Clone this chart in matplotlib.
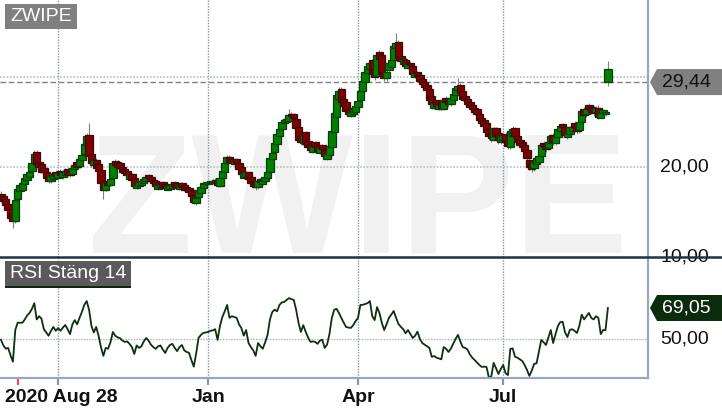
import numpy as np
import matplotlib
matplotlib.use('Agg')
import matplotlib.pyplot as plt
from matplotlib.patches import Polygon, Rectangle
from matplotlib.lines import Line2D
from matplotlib.transforms import IdentityTransform

plt.rcParams['font.family'] = ['Liberation Sans', 'DejaVu Sans']

# daily candles from 2020-08-28
closes = [
    16.5, 16.2, 15.8, 15.2, 14.3, 14.0, 16.3, 17.6, 18.0, 18.2,
    18.8, 19.2, 19.4, 20.5, 21.5, 20.3, 20.0, 19.5, 19.4, 18.8,
    18.4, 19.0, 19.2, 19.0, 19.3, 19.1, 19.4, 19.6, 19.2, 19.1,
    19.9, 20.2, 20.0, 20.9, 21.3, 22.6, 23.4, 21.2, 20.4, 20.8,
    19.9, 19.6, 18.2, 17.5, 18.2, 18.0, 18.7, 20.4, 20.2, 20.0,
    19.9, 19.5, 19.3, 19.1, 19.2, 18.6, 17.9, 18.1, 18.3, 18.5,
    18.7, 18.9, 18.8, 18.4, 18.2, 17.9, 18.0, 18.1, 17.8, 17.7,
    17.9, 18.0, 18.1, 17.9, 17.8, 18.0, 17.8, 17.5, 17.4, 17.2,
    16.8, 16.1, 16.6, 17.4, 17.8, 18.2, 18.2, 18.3, 18.4, 18.5,
    18.6, 18.0, 18.8, 19.6, 20.4, 21.1, 20.6, 20.5, 20.7, 20.5,
    19.8, 19.2, 19.3, 19.4, 18.7, 18.2, 17.9, 17.8, 18.4, 18.3,
    18.6, 18.9, 19.5, 21.0, 21.6, 22.7, 23.7, 24.2, 25.0, 25.2,
    25.3, 25.8, 25.7, 25.4, 24.3, 23.0, 22.8, 23.6, 22.6, 22.2,
    21.9, 22.3, 22.2, 21.8, 22.1, 22.0, 21.2, 21.4, 22.3, 24.0,
    26.0, 28.0, 28.5, 27.2, 26.8, 26.2, 25.9, 26.1, 26.4, 26.8,
    27.3, 28.4, 29.6, 30.6, 31.2, 31.6, 30.3, 30.0, 32.4, 32.0,
    30.3, 29.9, 30.6, 31.6, 31.9, 33.4, 33.8, 32.1, 31.8, 32.0,
    31.2, 31.4, 31.3, 30.3, 30.4, 30.1, 29.6, 29.2, 28.9, 28.6,
    27.5, 27.0, 27.1, 26.8, 26.9, 26.6, 27.4, 27.2, 27.0, 27.7,
    28.1, 28.8, 29.0, 28.2, 27.6, 27.4, 27.0, 26.7, 26.4, 26.1,
    25.9, 25.2, 24.9, 24.6, 23.9, 23.4, 23.2, 24.3, 23.5, 23.0,
    23.4, 23.6, 22.8, 22.3, 24.0, 24.2, 23.4, 22.8, 22.5, 22.2,
    21.8, 21.0, 20.0, 19.8, 20.6, 21.0, 21.2, 22.5, 22.3, 22.0,
    22.8, 23.5, 22.8, 23.4, 24.2, 24.6, 24.5, 23.6, 23.8, 24.4,
    24.5, 24.4, 24.0, 25.0, 26.2, 25.8, 26.5, 26.4, 26.1, 26.0,
    26.6, 25.6, 26.0, 26.0, 26.1, 29.44]

opens = [
    17.0, 16.8, 16.4, 15.9, 15.3, 14.9, 14.0, 16.4, 17.3, 17.5,
    18.1, 18.6, 18.9, 19.6, 20.5, 21.7, 20.6, 20.3, 19.9, 19.5,
    19.0, 18.4, 18.7, 19.5, 18.8, 19.6, 18.9, 19.1, 19.8, 19.6,
    19.2, 19.8, 20.6, 20.1, 20.8, 21.4, 22.5, 23.6, 21.4, 20.2,
    20.8, 20.3, 19.7, 18.4, 17.4, 18.5, 18.0, 18.8, 20.7, 20.6,
    20.4, 20.0, 19.8, 19.6, 18.7, 19.2, 18.8, 17.7, 17.9, 18.0,
    18.2, 18.4, 19.1, 18.9, 18.6, 18.4, 17.6, 17.7, 18.3, 18.1,
    17.5, 17.6, 17.7, 18.3, 18.2, 17.6, 18.2, 18.0, 17.8, 17.7,
    17.4, 16.9, 16.0, 16.7, 17.1, 17.7, 18.1, 18.1, 18.2, 18.2,
    18.3, 18.6, 17.9, 18.8, 19.5, 20.4, 21.1, 20.9, 20.3, 20.9,
    20.5, 20.0, 18.8, 18.9, 19.4, 18.9, 18.5, 18.3, 17.8, 18.7,
    18.1, 18.4, 18.8, 19.4, 20.9, 21.7, 22.6, 23.5, 24.2, 24.9,
    25.0, 25.1, 25.9, 25.9, 25.3, 24.4, 23.4, 22.7, 23.9, 22.9,
    22.6, 21.7, 22.8, 22.4, 21.6, 22.5, 21.9, 20.9, 21.3, 22.2,
    23.9, 25.6, 27.6, 28.7, 27.6, 27.2, 26.6, 25.7, 25.9, 26.1,
    26.7, 27.4, 28.4, 29.5, 30.5, 30.9, 31.9, 30.9, 30.1, 32.8,
    32.5, 30.6, 29.9, 30.8, 31.1, 31.9, 33.2, 33.9, 32.3, 31.5,
    31.9, 31.0, 31.6, 31.2, 30.0, 30.6, 30.2, 29.8, 29.4, 29.1,
    28.7, 27.9, 26.6, 27.4, 26.5, 27.2, 26.5, 27.7, 27.5, 27.0,
    27.5, 28.0, 28.6, 29.1, 28.5, 27.9, 27.6, 27.2, 26.9, 26.6,
    26.4, 25.9, 25.5, 25.2, 24.9, 24.2, 23.8, 23.0, 24.3, 23.8,
    22.8, 23.0, 23.7, 23.0, 22.2, 23.5, 24.3, 23.5, 23.0, 22.8,
    22.4, 21.9, 20.8, 20.4, 19.9, 20.3, 20.6, 21.2, 22.7, 22.6,
    22.1, 22.7, 23.6, 22.7, 23.3, 24.0, 24.8, 24.4, 23.3, 23.7,
    24.0, 24.9, 24.6, 24.1, 25.0, 26.5, 25.9, 26.9, 26.7, 26.6,
    26.1, 26.6, 25.5, 26.3, 25.9, 30.9]

highs = [
    17.3, 17.0, 16.6, 16.1, 15.5, 15.0, 16.6, 17.9, 18.3, 18.5,
    19.0, 19.5, 19.8, 20.8, 21.9, 21.9, 20.8, 20.5, 20.1, 19.7,
    19.2, 19.3, 19.5, 19.7, 19.6, 19.8, 19.7, 19.9, 20.0, 19.8,
    20.1, 20.5, 20.8, 21.1, 21.6, 22.9, 23.8, 24.9, 21.7, 21.1,
    21.0, 20.5, 19.8, 18.6, 18.4, 18.6, 18.9, 20.6, 20.9, 20.8,
    20.5, 20.2, 20.0, 19.8, 19.4, 19.3, 19.0, 18.3, 18.5, 18.7,
    18.9, 19.1, 19.2, 19.0, 18.7, 18.5, 18.2, 18.3, 18.4, 18.2,
    18.0, 18.2, 18.3, 18.4, 18.3, 18.1, 18.3, 18.1, 17.9, 17.8,
    17.5, 17.0, 16.8, 17.6, 18.0, 18.4, 18.3, 18.4, 18.5, 18.7,
    18.8, 18.8, 19.0, 19.8, 20.6, 21.3, 21.3, 21.0, 20.9, 21.0,
    20.6, 20.1, 19.6, 19.6, 19.5, 19.0, 18.6, 18.4, 18.6, 18.8,
    18.8, 19.1, 19.7, 21.2, 21.8, 22.9, 23.9, 24.5, 25.3, 25.5,
    25.6, 26.4, 26.1, 26.0, 25.5, 24.6, 23.6, 23.8, 24.0, 23.0,
    22.8, 22.5, 22.9, 22.6, 22.3, 22.6, 22.1, 21.6, 22.5, 24.2,
    26.2, 28.3, 28.9, 28.9, 27.8, 27.4, 26.8, 26.3, 26.6, 27.0,
    27.5, 28.7, 29.9, 30.8, 31.5, 31.8, 32.0, 31.1, 32.7, 33.0,
    32.8, 30.8, 30.9, 31.8, 32.2, 33.7, 34.9, 34.1, 32.5, 32.2,
    32.1, 31.6, 31.8, 31.4, 30.6, 30.7, 30.4, 30.0, 29.5, 29.2,
    28.8, 28.0, 27.3, 27.5, 27.1, 27.3, 27.6, 27.9, 27.7, 27.9,
    28.3, 29.0, 29.9, 29.3, 28.7, 28.0, 27.7, 27.3, 27.0, 26.8,
    26.5, 26.0, 25.6, 25.3, 25.0, 24.3, 24.0, 24.5, 24.4, 23.9,
    23.6, 23.8, 23.9, 23.1, 24.2, 24.6, 24.5, 23.6, 23.1, 22.9,
    22.5, 22.0, 21.0, 20.5, 20.8, 21.2, 21.4, 22.7, 22.9, 22.8,
    23.0, 23.7, 23.8, 23.6, 24.4, 24.8, 24.9, 24.6, 24.0, 24.6,
    24.7, 25.1, 24.8, 25.2, 26.4, 26.7, 26.7, 27.1, 26.9, 26.8,
    26.8, 26.9, 26.2, 26.4, 26.3, 31.8]

lows = [
    16.1, 15.9, 15.4, 14.8, 14.0, 13.2, 13.8, 16.1, 17.1, 17.3,
    17.9, 18.4, 18.7, 19.4, 20.3, 20.1, 19.8, 19.3, 19.2, 18.6,
    18.2, 18.2, 18.5, 18.8, 18.6, 18.9, 18.7, 18.9, 19.0, 18.9,
    19.0, 19.6, 19.8, 19.9, 20.6, 21.2, 22.3, 21.0, 20.0, 20.0,
    19.7, 19.4, 18.0, 16.4, 17.3, 17.8, 17.9, 18.7, 20.0, 19.8,
    19.7, 19.3, 19.1, 18.9, 18.6, 18.4, 17.7, 17.6, 17.8, 17.9,
    18.0, 18.3, 18.6, 18.2, 18.0, 17.7, 17.5, 17.6, 17.6, 17.5,
    17.4, 17.5, 17.6, 17.7, 17.6, 17.5, 17.6, 17.3, 17.2, 17.0,
    16.6, 15.9, 15.8, 16.5, 17.0, 17.6, 18.0, 18.0, 18.1, 18.1,
    18.2, 17.8, 17.8, 18.7, 19.4, 20.2, 20.4, 20.3, 20.2, 20.3,
    19.6, 19.0, 18.7, 18.8, 18.5, 18.0, 17.7, 17.4, 17.6, 18.1,
    18.0, 18.3, 18.7, 19.2, 20.7, 21.5, 22.5, 23.3, 24.0, 24.7,
    24.9, 25.0, 25.4, 25.2, 24.1, 22.8, 22.5, 22.5, 22.4, 22.0,
    21.7, 21.6, 22.0, 21.6, 21.5, 21.8, 21.0, 20.8, 21.2, 22.1,
    23.7, 25.4, 27.4, 27.0, 26.5, 26.0, 25.7, 25.6, 25.8, 26.0,
    26.6, 27.2, 28.3, 29.3, 30.4, 30.7, 30.1, 29.7, 29.9, 31.7,
    30.0, 29.6, 29.6, 30.6, 31.0, 31.7, 33.0, 31.8, 31.5, 31.3,
    31.0, 30.9, 31.0, 30.0, 29.9, 29.9, 29.4, 29.0, 28.7, 28.3,
    27.2, 26.5, 26.4, 26.5, 26.3, 26.3, 26.3, 26.9, 26.7, 26.8,
    27.3, 27.8, 28.4, 27.9, 27.3, 27.1, 26.8, 26.4, 26.1, 25.8,
    25.6, 24.9, 24.6, 24.3, 23.6, 23.0, 22.8, 22.9, 23.2, 22.6,
    22.6, 22.9, 22.5, 22.0, 22.0, 23.3, 23.1, 22.5, 22.2, 21.9,
    21.5, 20.7, 19.7, 19.5, 19.6, 20.1, 20.4, 21.0, 22.0, 21.7,
    21.9, 22.5, 22.5, 22.5, 23.1, 23.8, 24.2, 23.3, 23.1, 23.5,
    23.9, 24.1, 23.7, 23.8, 24.8, 25.5, 25.6, 26.1, 25.9, 25.7,
    25.8, 25.3, 25.4, 25.7, 25.7, 29.0]

# RSI (close, 14)
rsi = [
    49.5, 46.0, 44.0, 44.5, 40.0, 36.0, 55.5, 60.0, 60.0, 60.0,
    62.0, 64.5, 66.0, 68.5, 72.0, 62.0, 64.0, 62.5, 56.0, 54.0,
    52.0, 55.0, 57.4, 55.0, 56.7, 55.0, 57.0, 58.6, 56.0, 53.0,
    59.0, 61.6, 59.0, 63.0, 66.6, 71.0, 73.3, 68.0, 58.0, 54.0,
    57.4, 52.0, 45.0, 39.6, 44.5, 44.0, 48.0, 54.3, 52.0, 51.0,
    50.5, 49.0, 48.2, 48.5, 47.0, 45.0, 40.8, 46.0, 44.5, 45.5,
    48.5, 50.6, 49.0, 46.5, 45.0, 43.9, 45.5, 46.0, 43.5, 41.4,
    44.5, 46.3, 47.0, 44.5, 42.5, 45.0, 46.3, 43.0, 42.0, 41.5,
    37.0, 33.0, 41.0, 50.6, 52.5, 53.7, 54.0, 54.3, 55.0, 55.3,
    56.0, 49.4, 58.0, 63.5, 67.0, 70.9, 63.0, 64.0, 63.5, 63.0,
    59.0, 56.7, 52.0, 55.5, 47.5, 45.0, 43.0, 39.6, 47.5, 45.5,
    44.0, 48.0, 52.5, 62.0, 66.6, 68.0, 67.0, 70.9, 72.5, 72.7,
    74.0, 75.1, 74.5, 74.0, 68.0, 60.0, 54.3, 58.5, 54.5, 51.0,
    48.2, 48.5, 48.2, 47.0, 49.0, 49.5, 44.5, 46.5, 53.0, 62.9,
    68.0, 68.5, 66.0, 62.9, 60.0, 57.4, 57.0, 56.8, 58.5, 61.0,
    63.0, 70.9, 71.0, 71.5, 72.0, 73.3, 64.0, 61.6, 69.6, 66.0,
    60.0, 55.5, 59.0, 63.0, 65.0, 67.2, 63.0, 59.2, 57.5, 56.0,
    53.5, 55.5, 53.0, 50.6, 52.0, 54.5, 50.0, 47.5, 46.5, 45.5,
    44.5, 39.0, 39.5, 38.5, 38.0, 37.5, 45.0, 44.0, 42.0, 44.0,
    47.0, 50.0, 52.5, 48.5, 45.0, 44.5, 43.5, 40.5, 38.5, 37.1,
    35.5, 34.0, 32.8, 33.0, 32.8, 26.2, 27.0, 35.3, 32.0, 28.5,
    31.5, 34.0, 29.0, 27.8, 43.9, 44.2, 39.0, 38.5, 37.5, 36.5,
    34.0, 31.0, 27.3, 30.5, 34.7, 35.0, 42.0, 49.4, 48.0, 46.3,
    51.0, 55.5, 47.5, 53.0, 58.0, 60.4, 60.5, 54.0, 51.2, 55.5,
    56.0, 55.0, 53.7, 58.0, 65.0, 62.0, 64.0, 66.0, 63.0, 62.0,
    64.0, 63.0, 53.0, 55.5, 55.5, 69.05]

month_pos = [24, 87, 150, 211]
month_labels = ['', 'Jan', 'Apr', 'Jul']
year_tick = 7
price_ticks = [10, 20]
last_price = 29.44
last_rsi = 69.05

W, H = 722, 411
fig = plt.figure(figsize=(W / 100, H / 100), dpi=100)
ax = fig.add_axes([0, 1 - 257 / H, 648 / W, 257 / H])
ax2 = fig.add_axes([0, 1 - 378 / H, 648 / W, 121 / H], sharex=ax)

idx = np.arange(len(closes))
o = np.array(opens)
c = np.array(closes)
prev = np.concatenate([[o[0]], c[:-1]])
up = c >= prev

for a in (ax, ax2):
    for s in a.spines.values():
        s.set_visible(False)
    a.set_xticks([])
    a.set_yticks([])
    for m in month_pos:
        a.axvline(m, color='#8797a8', lw=1.0, ls=(0, (1, 1)), zorder=1)

ax.set_xlim(-0.42, 271.85)
ax.set_ylim(10, 38.56)
ax2.set_ylim(26, 100.4)

ax.text(88 / 648, 5 / 257, 'ZWIPE', transform=ax.transAxes, fontsize=123,
        fontweight='bold', color='#f1f1f1', va='baseline', ha='left', zorder=0.5)

for v in [20, 30]:
    ax.axhline(v, color='#b4c0ca', lw=1.2, ls=(0, (1, 1)), zorder=1)
ax.axhline(last_price, color='#808080', lw=1.0, ls=(0, (4, 2)), zorder=1)

# candles
ax.vlines(idx, lows, highs, color='#808080', lw=0.8, zorder=2)
ax.bar(idx, np.abs(c - o), bottom=np.minimum(o, c), width=3.1,
       color=np.where(up, '#008000', '#800000'),
       edgecolor=np.where(up, '#0b3d0b', '#3d0a0a'), linewidth=0.9, zorder=3)

# rsi panel
ax2.axhline(50, color='#a8b4be', lw=1.0, ls=(0, (1, 1)), zorder=1)
ax2.plot(idx, rsi, color='#0f2f0f', lw=1.3, zorder=3)

# frame lines
frame = '#97a8be'
fig.add_artist(Line2D([648 / W, 648 / W], [1 - 378 / H, 1], transform=fig.transFigure, color=frame, lw=1.6))
fig.add_artist(Line2D([0, 648 / W], [1 - 378 / H, 1 - 378 / H], transform=fig.transFigure, color=frame, lw=1.6))

# ticks and dates under the rsi panel
xt = ax2.get_xaxis_transform()
ax2.vlines(month_pos, -0.06, 0, transform=xt, color='#8797a8', lw=1.6, clip_on=False)
ax2.vlines([year_tick], -0.06, 0, transform=xt, color='#f05050', lw=1.6, clip_on=False)
for m, lab in zip(month_pos, month_labels):
    if lab:
        ax2.text(m, -0.2, lab, transform=xt, ha='center', va='baseline',
                 fontsize=14, fontweight='bold', color='#111111', clip_on=False)
ax2.text(5 / 648, -0.2, '2020 Aug 28', transform=ax2.transAxes, ha='left', va='baseline',
         fontsize=14, fontweight='bold', color='#111111', clip_on=False)

ident = IdentityTransform()


def right_label(a, v, txt):
    y = a.transData.transform((0, v))[1]
    fig.text(660, y, txt, transform=ident, ha='left', va='center', fontsize=14, color='#111111', zorder=3)


def tag(a, v, txt, fc, tc):
    y = a.transData.transform((0, v))[1]
    pts = [(650, y), (657, y + 13), (722, y + 13), (722, y - 13), (657, y - 13)]
    fig.add_artist(Polygon(pts, closed=True, transform=ident, facecolor=fc, edgecolor='none', zorder=3))
    fig.text(686, y, txt, transform=ident, ha='center', va='center', fontsize=14, color=tc, zorder=4)


for v in price_ticks:
    right_label(ax, v, '%d,00' % v)
right_label(ax2, 50, '50,00')
tag(ax, last_price, '29,44', '#808080', '#111111')
tag(ax2, last_rsi, '69,05', '#0c2a0c', 'white')

# divider between panels
fig.add_artist(Line2D([0, 1], [1 - 257 / H, 1 - 257 / H], transform=fig.transFigure,
                      color='#1c3348', lw=1.8, zorder=5))

# panel names
fig.add_artist(Rectangle((5, H - 29), 72, 25, transform=ident, facecolor='#808080', edgecolor='none', zorder=3))
fig.text(41, H - 16.5, 'ZWIPE', transform=ident, ha='center', va='center', fontsize=14, color='white', zorder=4)
fig.add_artist(Rectangle((5, H - 286), 126, 25, transform=ident, facecolor='#5a5a5a', edgecolor='none', zorder=3))
fig.add_artist(Rectangle((5, H - 288), 126, 2, transform=ident, facecolor='#0c2a0c', edgecolor='none', zorder=3))
fig.text(68, H - 273.5, 'RSI Stäng 14', transform=ident, ha='center', va='center', fontsize=14, color='white', zorder=4)

fig.savefig('out.png', dpi=100)
